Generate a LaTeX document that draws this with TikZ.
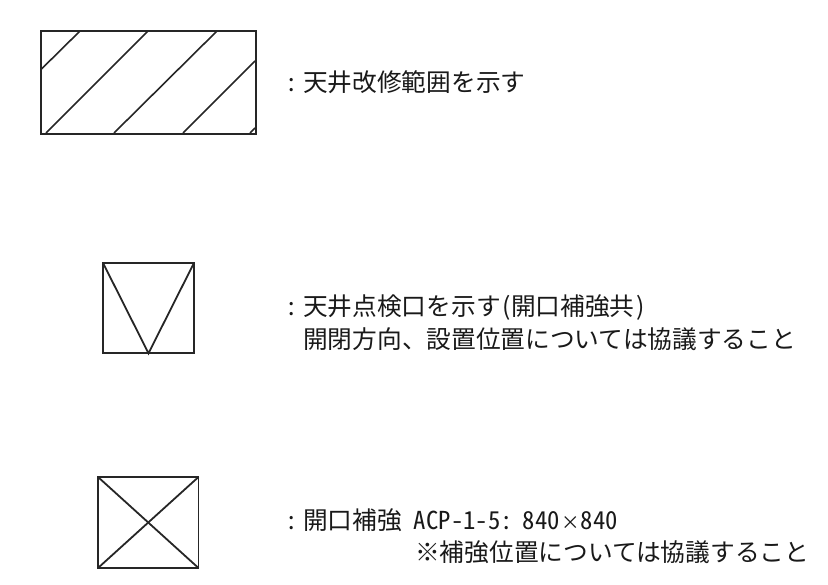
\documentclass[tikz,border=0pt]{standalone}
\usepackage{fontspec}
\setmainfont{Noto Sans CJK JP}
\newfontfamily\hw[RawFeature=+hwid]{Noto Sans CJK JP}
\tikzset{
  sym/.style={draw=black!85, line width=1.8pt, outer sep=0pt, inner sep=0pt, anchor=north west},
  symline/.style={draw=black!85, line width=1.8pt},
  hatch/.style={draw=black!85, line width=1.6pt},
  lbl/.style={anchor=base west, inner sep=0pt, font=\fontsize{24.7}{30}\selectfont, text=black!90}
}
\newcommand{\cln}{\makebox[14pt][l]{\hspace{-4pt}\hw :}}
\begin{document}
\begin{tikzpicture}[x=1pt,y=-1pt]
\useasboundingbox (0,0) rectangle (828,585);
% hatched symbol
\draw[hatch] (80,31) -- (41.5,69);
\draw[hatch] (148,31) -- (46,133);
\draw[hatch] (217,31) -- (114,133);
\draw[hatch] (255,61) -- (183,133);
\draw[hatch] (250,133) -- (255,128);
\node[sym, minimum width=214.3pt, minimum height=103pt] (hatchbox) at (41.3,31) {};
% inspection hatch symbol
\node[sym, minimum width=90.6pt, minimum height=90pt] (vbox) at (103.2,263.3) {};
\coordinate (apex) at (vbox.south);
\draw[symline] (vbox.north west) -- (apex) -- (vbox.north east);
% reinforcement symbol
\node[sym, minimum width=100.5pt, minimum height=91pt] (xbox) at (98,477) {};
\draw[symline] (xbox.north west) -- (xbox.south east);
\draw[symline] (xbox.north east) -- (xbox.south west);
% labels
\node[lbl] (t1) at (289,92) {\cln 天井改修範囲を示す};
\node[lbl] (t2) at (289,316) {\cln 天井点検口を示す\hspace{2pt}(開口補強共\hspace{2pt})};
\node[lbl] (t3) at (303,349) {開閉方向、設置位置については協議すること};
\node[lbl] (t4) at (289,529) {\cln 開口補強\hspace{12pt}{\hw ACP-1-5:}\hspace{10pt}{\hw 840}\makebox[21pt][c]{\scalebox{0.75}{×}}{\hw 840}};
\node[lbl] (t5) at (415,561) {※補強位置については協議すること};
\end{tikzpicture}
\end{document}
